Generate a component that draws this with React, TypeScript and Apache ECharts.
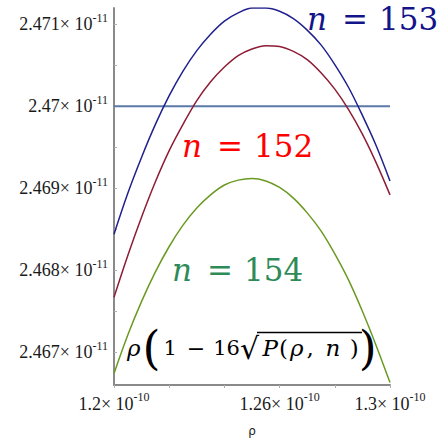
import React, { useEffect, useRef } from "react";
import * as echarts from "echarts";

// rho in units of 1e-10, values in units of 1e-11
const rho = [
  1.2, 1.205, 1.21, 1.215, 1.22, 1.225, 1.23, 1.235, 1.24, 1.245, 1.25,
  1.255, 1.26, 1.265, 1.27, 1.275, 1.28, 1.285, 1.29, 1.295, 1.3,
];
const n153 = [
  2.46844, 2.46894, 2.46938, 2.46978, 2.47013, 2.47043, 2.47068, 2.47088, 2.47104, 2.47114, 2.4712,
  2.4712, 2.47116, 2.47107, 2.47093, 2.47075, 2.47051, 2.47023, 2.46989, 2.46952, 2.46909,
];
const n152 = [
  2.46767, 2.46818, 2.46865, 2.46908, 2.46946, 2.46978, 2.47007, 2.4703, 2.47048, 2.47062, 2.4707,
  2.47074, 2.47073, 2.47067, 2.47057, 2.47041, 2.47021, 2.46996, 2.46966, 2.46931, 2.46892,
];
const n154 = [
  2.46674, 2.46721, 2.46762, 2.46798, 2.46829, 2.46855, 2.46876, 2.46892, 2.46904, 2.4691, 2.46912,
  2.46909, 2.46901, 2.46888, 2.4687, 2.46848, 2.4682, 2.46788, 2.4675, 2.46708, 2.46663,
];
const level = 2.47;

const yLabels = [2.467, 2.468, 2.469, 2.47, 2.471];
const yTicks = [2.467, 2.4675, 2.468, 2.4685, 2.469, 2.4695, 2.47, 2.4705, 2.471];
const xLabels = [1.2, 1.26, 1.3];
const xTicks = [1.2, 1.22, 1.24, 1.26, 1.28, 1.3];

const TICK_FONT = "Liberation Serif";
const MATH_FONT = "DejaVu Serif";

const pairs = (ys: number[]) => ys.map((v, i) => [rho[i], v]);

// one run of a typeset formula: text, size, italic, gap before it
type Run = [string, number, boolean, number];

const typeset = (runs: Run[], color: string, lineHeight: number) => {
  const rich: Record<string, object> = {};
  let text = "";
  runs.forEach(([t, size, italic, gap], i) => {
    const key = `r${i}`;
    const s: Record<string, unknown> = {
      fontFamily: MATH_FONT,
      fontSize: size,
      color,
      lineHeight,
      padding: [0, 0, 0, gap],
    };
    if (italic) s.fontStyle = "italic";
    rich[key] = s;
    text += `{${key}|${t}}`;
  });
  return { text, rich };
};

// a text block whose top-left corner sits at (left, top)
const block = (left: number, top: number, runs: Run[], color: string, lineHeight: number) => {
  const { text, rich } = typeset(runs, color, lineHeight);
  return {
    text,
    left,
    top,
    padding: 0,
    textStyle: { fontFamily: MATH_FONT, fontWeight: "normal", color, rich },
  };
};

// "n = N"; X is the left edge of n, cy the vertical middle of the digits
const nLabel = (X: number, cy: number, num: string, color: string, size = 31) =>
  block(X, cy - 15, [["n", size, true, 0], ["=", size, false, 15], [num, size, false, 11]], color, 30);

const supLabel = (v: number, exp: string) => `{m|${v}× 10}{e|${exp}}`;

export default function App() {
  const ref = useRef<HTMLDivElement>(null);

  useEffect(() => {
    if (!ref.current) return;
    const chart = echarts.init(ref.current, undefined, { renderer: "svg" });
    const axisColor = "#8a8a8a";
    const richLabel = {
      m: { fontFamily: TICK_FONT, fontSize: 18, color: "#1a1a1a", lineHeight: 25 },
      e: { fontFamily: TICK_FONT, fontSize: 12, color: "#1a1a1a", lineHeight: 12, verticalAlign: "top" },
    };
    chart.setOption({
      animation: false,
      backgroundColor: "#fff",
      textStyle: { fontFamily: TICK_FONT },
      title: [
        nLabel(307, 18.5, "153", "#14148a"),
        nLabel(182, 145.5, "152", "#ff0000"),
        nLabel(172, 269.5, "154", "#2e8b57"),
        // ρ(1 − 16√P(ρ, n))
        block(
          127,
          326,
          [
            ["ρ", 23, true, 0],
            ["(", 46, false, 2],
            ["1", 21, false, 3],
            ["−", 22, false, 10],
            ["16", 21, false, 8],
            ["√", 30, false, 0],
            ["P", 23, true, 3.5],
            ["(", 23, false, 1],
            ["ρ", 23, true, 2],
            [",", 23, false, 3],
            ["n", 23, true, 11.5],
            [")", 23, false, 9.5],
            [")", 46, false, 0],
          ],
          "#000",
          44
        ),
      ],
      graphic: [
        {
          type: "line",
          silent: true,
          shape: { x1: 257, y1: 332.5, x2: 362, y2: 332.5 },
          style: { stroke: "#000", lineWidth: 1.3 },
        },
      ],
      grid: { left: 114, right: 55, top: 8, bottom: 55, containLabel: false, outerBoundsMode: "none" },
      xAxis: {
        type: "value",
        min: 1.2,
        max: 1.3,
        name: "ρ",
        nameLocation: "middle",
        nameGap: 40,
        nameTextStyle: { fontFamily: "DejaVu Sans", fontSize: 12, color: "#222" },
        axisLine: { show: true, lineStyle: { color: axisColor, width: 2 } },
        axisTick: { show: true, length: 3, inside: false, customValues: xTicks, lineStyle: { color: "#b0b0b0" } },
        axisLabel: {
          customValues: xLabels,
          margin: 6,
          formatter: (v: number) => supLabel(v, "-10"),
          rich: richLabel,
        },
        splitLine: { show: false },
      },
      yAxis: {
        type: "value",
        min: 2.4666,
        max: 2.4712,
        axisLine: { show: true, lineStyle: { color: axisColor, width: 2 } },
        axisTick: { show: true, length: 3, inside: true, customValues: yTicks, lineStyle: { color: "#b0b0b0" } },
        axisLabel: {
          customValues: yLabels,
          margin: 6,
          formatter: (v: number) => supLabel(v, "-11"),
          rich: richLabel,
        },
        splitLine: { show: false },
      },
      series: [
        {
          name: "level",
          type: "line",
          data: [[rho[0], level], [rho[rho.length - 1], level]],
          showSymbol: false,
          lineStyle: { color: "#5a78a8", width: 2 },
        },
        {
          name: "n = 153",
          type: "line",
          data: pairs(n153),
          smooth: 0.35,
          showSymbol: false,
          lineStyle: { color: "#20208e", width: 1.5 },
        },
        {
          name: "n = 152",
          type: "line",
          data: pairs(n152),
          smooth: 0.35,
          showSymbol: false,
          lineStyle: { color: "#8e1c34", width: 1.5 },
        },
        {
          name: "n = 154",
          type: "line",
          data: pairs(n154),
          smooth: 0.35,
          showSymbol: false,
          lineStyle: { color: "#6b9a22", width: 1.5 },
        },
      ],
    });
    return () => chart.dispose();
  }, []);

  return (
    <div
      ref={ref}
      style={{ position: "absolute", left: 0, top: 0, width: 445, height: 440 }}
    />
  );
}
